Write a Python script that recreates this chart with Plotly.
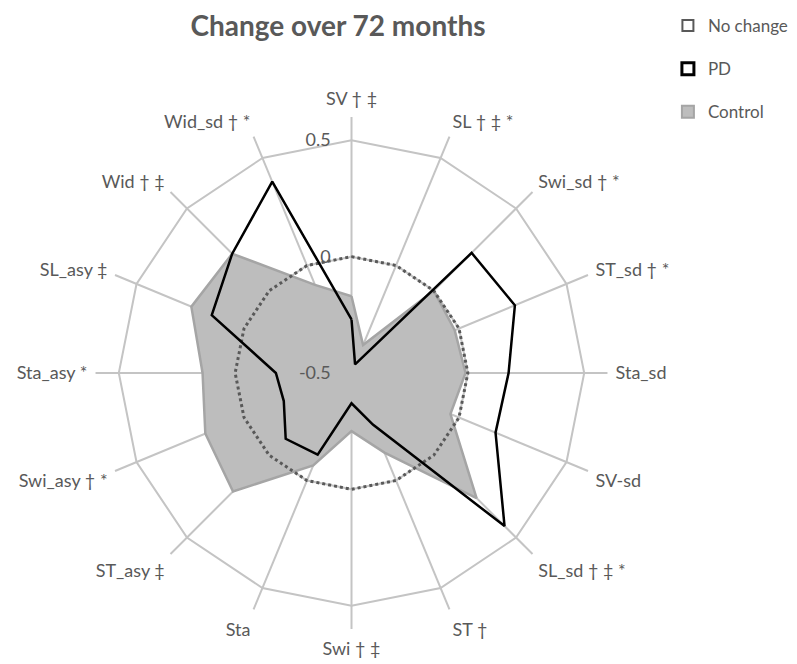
import plotly.graph_objects as go

categories = ["SV † ‡", "SL † ‡ *", "Swi_sd † *", "ST_sd † *", "Sta_sd", "SV-sd",
              "SL_sd † ‡ *", "ST †", "Swi † ‡", "Sta", "ST_asy ‡", "Swi_asy † *",
              "Sta_asy *", "SL_asy ‡", "Wid † ‡", "Wid_sd † *"]
pd_change = [-0.27, -0.46, 0.23, 0.26, 0.175, 0.17, 0.43, -0.26, -0.37, -0.12,
             -0.10, -0.185, -0.175, 0.15, 0.225, 0.39]
control_change = [-0.17, -0.37, 0.0, -0.02, -0.01, -0.04, 0.26, -0.13, -0.25, -0.07,
                  0.22, 0.18, 0.14, 0.245, 0.225, -0.09]
no_change = [0.0] * len(categories)
radial_ticks = [-0.5, 0, 0.5]
radial_labels = ["-0.5", "0", "0.5"]

# close the polygons
theta = categories + categories[:1]

GREY_TXT = "#595959"
GRID = "#c4c4c4"

fig = go.Figure()

fig.add_trace(go.Scatterpolar(
    r=control_change + control_change[:1], theta=theta, name="Control",
    mode="lines", fill="toself", fillcolor="#bdbdbd",
    line=dict(color="#a5a5a5", width=2.5), showlegend=False))

fig.add_trace(go.Scatterpolar(
    r=no_change + no_change[:1], theta=theta, name="No change",
    mode="lines", line=dict(color=GREY_TXT, width=3, dash="dot"),
    showlegend=False))

fig.add_trace(go.Scatterpolar(
    r=pd_change + pd_change[:1], theta=theta, name="PD",
    mode="lines", line=dict(color="#000000", width=2.5), showlegend=False))

# legend entries (square keys like the original)
legend_keys = [
    ("No change", dict(symbol="square-open", size=11, color=GREY_TXT, line=dict(width=2))),
    ("PD", dict(symbol="square-open", size=12, color="#000000", line=dict(width=3))),
    ("Control", dict(symbol="square", size=12, color="#bdbdbd",
                     line=dict(color="#a5a5a5", width=2))),
]
for i, (name, marker) in enumerate(legend_keys):
    fig.add_trace(go.Scatterpolar(
        r=[None], theta=[categories[0]], name=name, mode="markers",
        marker=marker, legendgroup=name, legendrank=i + 1))

fig.update_layout(
    width=797, height=664,
    margin=dict(l=0, r=0, t=0, b=0),
    paper_bgcolor="white",
    font=dict(family="Lato", size=18, color=GREY_TXT),
    title=dict(text="<b>Change over 72 months</b>", x=0.414, xanchor="center",
               y=0.973, yanchor="middle", font=dict(size=28, color=GREY_TXT)),
    polar=dict(
        domain=dict(x=[0.1098, 0.7522], y=[0.0648, 0.8358]),
        bgcolor="white",
        gridshape="linear",
        radialaxis=dict(range=[-0.5, 0.6], tickvals=radial_ticks,
                        ticktext=radial_labels,
                        showline=False, angle=90, tickangle=90,
                        side="counterclockwise",
                        ticks="outside", ticklen=14, tickcolor="rgba(0,0,0,0)",
                        gridcolor=GRID, gridwidth=1.8,
                        tickfont=dict(size=18, color=GREY_TXT)),
        angularaxis=dict(direction="clockwise", rotation=90, showline=False,
                         ticks="outside", ticklen=4, tickcolor="rgba(0,0,0,0)",
                         gridcolor=GRID, gridwidth=1.8,
                         tickfont=dict(size=18, color=GREY_TXT)),
    ),
    legend=dict(x=0.828, y=1.0, xanchor="left", yanchor="top",
                traceorder="grouped", tracegroupgap=18,
                font=dict(size=17, color=GREY_TXT), itemwidth=30),
)

fig.write_html("out.html")
